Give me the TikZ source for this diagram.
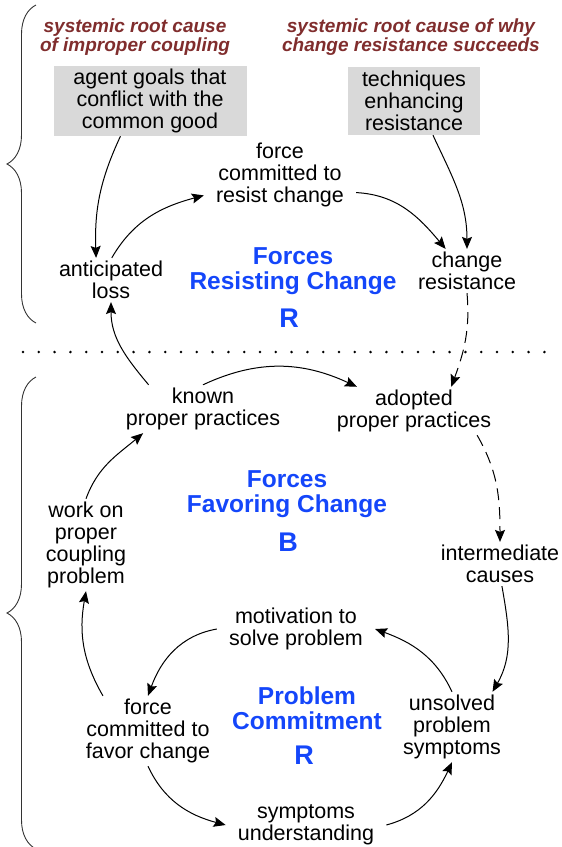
\documentclass[tikz,border=0pt]{standalone}
\usepackage{fontspec}
\setmainfont{Liberation Sans}
\usetikzlibrary{arrows.meta,decorations.pathreplacing}
\definecolor{loop_blue}{RGB}{20, 70, 250}
\definecolor{root_red}{RGB}{128, 45, 45}
\definecolor{box_grey}{RGB}{217, 217, 217}
\tikzstyle{vn}=[align=center,inner xsep=12pt,inner ysep=3pt,
  font=\fontsize{21.5}{22}\selectfont]
\tikzstyle{bx}=[vn,fill=box_grey,inner xsep=2pt,minimum height=68pt]
\tikzstyle{rc}=[align=center,text=root_red,inner sep=1pt,
  font=\fontsize{19}{18.5}\selectfont\bfseries\itshape]
\tikzstyle{ln}=[align=center,text=loop_blue,inner sep=1pt,
  font=\fontsize{24.5}{25}\selectfont\bfseries]
\tikzstyle{lp}=[ln,font=\fontsize{27}{27}\selectfont\bfseries]
\tikzstyle{arr}=[-{Stealth[length=12pt,width=10pt,inset=2pt]},line width=1pt]
\tikzstyle{darr}=[arr,dash pattern=on 12pt off 7pt]
\tikzstyle{brc}=[decorate,decoration={brace,amplitude=29pt,aspect=0.5},
  line width=0.9pt,draw=black!80]
\tikzstyle{none}=[]

\begin{document}
\begin{tikzpicture}[x=1pt,y=1pt]
        \useasboundingbox (0,0) rectangle (562,-847);
        % braces and the dotted divider
        \draw [style=brc] (36,-323) -- (36,-5);
        \draw [style=brc] (36,-849) -- (36,-377);
        \draw [line width=2.8pt,line cap=round,dash pattern=on 0pt off 15.8pt] (23,-352) -- (545,-352);
        % upper loop
        \node [style=rc] (0) at (135,-37) {systemic root cause\\of improper coupling};
        \node [style=rc] (1) at (411,-37) {systemic root cause of why\\change resistance succeeds};
        \node [style=bx,minimum width=193pt] (2) at (150,-101) {agent goals that\\conflict with the\\common good};
        \node [style=bx,minimum width=132pt] (3) at (414,-101) {techniques\\enhancing\\resistance};
        \node [style=vn] (4) at (280,-175) {force\\committed to\\resist change};
        \node [style=vn] (5) at (111,-280) {anticipated\\loss};
        \node [style=vn] (6) at (467,-271) {change\\resistance};
        \node [style=ln] (7) at (293,-271) {Forces\\Resisting Change};
        \node [style=lp] (8) at (289,-318) {R};
        % lower loops
        \node [style=vn] (9) at (203,-409) {known\\proper practices};
        \node [style=vn] (10) at (414,-411) {adopted\\proper practices};
        \node [style=ln] (11) at (287,-494) {Forces\\Favoring Change};
        \node [style=lp] (12) at (288,-542) {B};
        \node [style=vn] (13) at (86,-545) {work on\\proper\\coupling\\problem};
        \node [style=vn] (14) at (500,-564) {intermediate\\causes};
        \node [style=vn] (15) at (296,-629) {motivation to\\solve problem};
        \node [style=ln] (16) at (307,-708) {Problem\\Commitment};
        \node [style=lp] (17) at (304,-755) {R};
        \node [style=vn] (18) at (148,-731) {force\\committed to\\favor change};
        \node [style=vn] (19) at (452,-727) {unsolved\\problem\\symptoms};
        \node [style=vn] (20) at (306,-825) {symptoms\\understanding};
        % links
        \draw [style=arr] (2.230) to [out=245,in=92] (5.124);
        \draw [style=arr] (5.88) to [out=60,in=195] (4.195);
        \draw [style=arr] (4.-13) to [out=-3,in=130] (6.134);
        \draw [style=arr] (3.-61) to [out=-65,in=90] (6.north);
        \draw [style=darr] (6.south) to [out=-85,in=70] (10.33);
        \draw [style=arr] (9.156) to [out=130,in=-90] (5.south);
        \draw [style=arr] (9.north) to [out=25,in=155] (10.157);
        \draw [style=darr] (10.-21) to [out=-60,in=90] (14.north);
        \draw [style=arr] (14.-85) to [out=-80,in=60] (19.41);
        \draw [style=arr] (19.north) to [out=115,in=-20] (15.east);
        \draw [style=arr] (15.west) to [out=190,in=70] (18.north);
        \draw [style=arr] (18.142) to [out=120,in=-100] (13.south);
        \draw [style=arr] (13.north) to [out=70,in=220] (9.202);
        \draw [style=arr] (18.south) to [out=-65,in=165] (20.west);
        \draw [style=arr] (20.east) to [out=15,in=-115] (19.south);
    \end{tikzpicture}
\end{document}
